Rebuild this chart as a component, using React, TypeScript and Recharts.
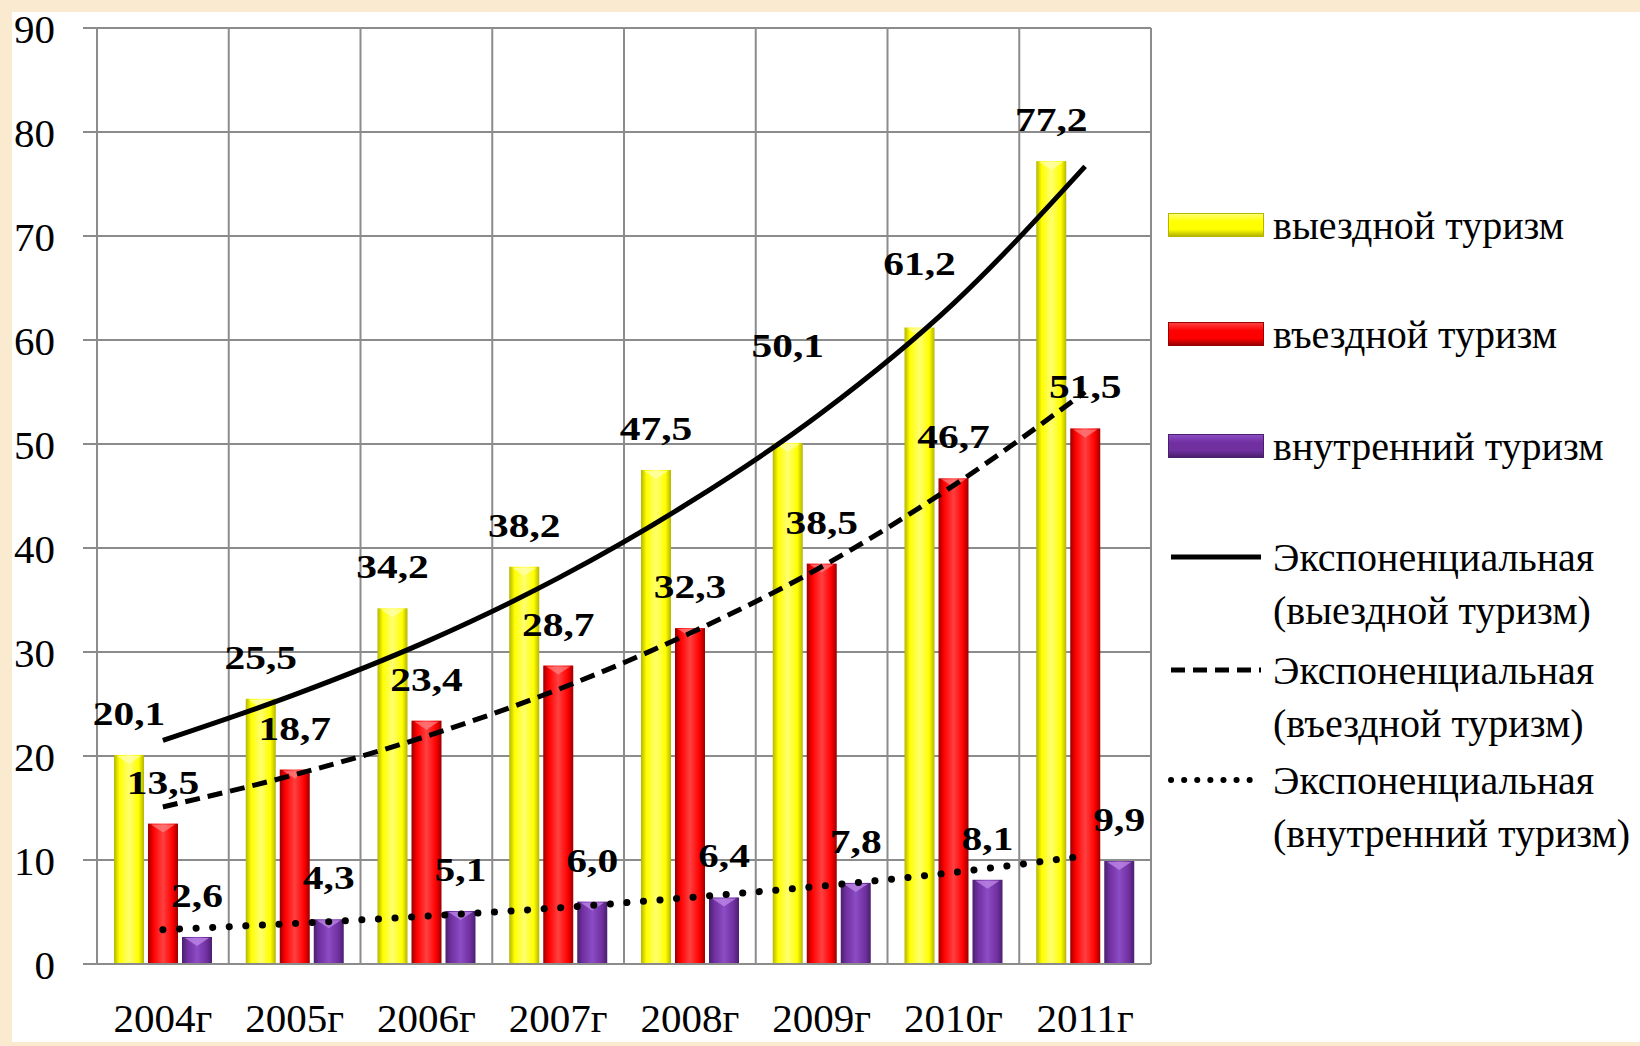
import {
    ComposedChart,
    Bar,
    Line,
    XAxis,
    YAxis,
    CartesianGrid,
    LabelList,
} from 'recharts';

const years = ['2004г', '2005г', '2006г', '2007г', '2008г', '2009г', '2010г', '2011г'];

// млн поездок (values as printed on the bars)
const outbound = [20.1, 25.5, 34.2, 38.2, 47.5, 50.1, 61.2, 77.2];
const inbound = [13.5, 18.7, 23.4, 28.7, 32.3, 38.5, 46.7, 51.5];
const domestic = [2.6, 4.3, 5.1, 6.0, 6.4, 7.8, 8.1, 9.9];

// exponential trend lines at each year
const outboundTrend = [21.5, 25.9, 31.0, 37.1, 44.4, 53.0, 63.5, 76.7];
const inboundTrend = [15.1, 18.2, 21.9, 26.4, 31.8, 38.2, 46.0, 55.0];
const domesticTrend = [3.3, 3.9, 4.6, 5.4, 6.4, 7.5, 8.8, 10.4];

const yTicks = [0, 10, 20, 30, 40, 50, 60, 70, 80, 90];

const seriesNames = ['выездной туризм', 'въездной туризм', 'внутренний туризм'];
const trendNames = [
    ['Экспоненциальная', '(выездной туризм)'],
    ['Экспоненциальная', '(въездной туризм)'],
    ['Экспоненциальная', '(внутренний туризм)'],
];

const data = years.map((year, i) => ({
    year,
    outbound: outbound[i],
    inbound: inbound[i],
    domestic: domestic[i],
    outboundTrend: outboundTrend[i],
    inboundTrend: inboundTrend[i],
    domesticTrend: domesticTrend[i],
}));

const FONT = "'Liberation Serif', 'Times New Roman', serif";
const GRID = '#8c8c8c';

const colors = {
    yellow: { dark: '#b5b500', base: '#ffff00', light: '#ffff70', top: '#ffffb0' },
    red: { dark: '#9a0000', base: '#ff0000', light: '#ff4040', top: '#ff8080' },
    purple: { dark: '#4a1f6e', base: '#7030a0', light: '#8c4cc4', top: '#c08ae8' },
};

const fmt = (v: number) => v.toFixed(1).replace('.', ',');

// bar with a bevelled look like the office 3D bars
const bevelBar = (gid: string, top: string) => (props: any) => {
    const { x, y, width, height } = props;
    if (!height || height <= 0) return <g />;
    const t = Math.min(9, height / 2);
    return (
        <g>
            <rect x={x} y={y} width={width} height={height} fill={`url(#${gid})`} />
            <polygon
                points={`${x + 3},${y + 1} ${x + width - 3},${y + 1} ${x + width / 2},${y + t}`}
                fill={top}
                opacity={0.75}
            />
        </g>
    );
};

// labels sit ~42px above the bar top; a couple were dragged higher in the original
const makeLabel = (lift: Record<number, number>) => (props: any) => {
    const vb = props.viewBox || {};
    const x = Number(props.x ?? vb.x);
    const y = Number(props.y ?? vb.y);
    const w = Number(props.width ?? vb.width);
    const idx = props.index ?? 0;
    const cx = x + w / 2;
    const base = y - 30 - (lift[idx] ?? 0);
    return (
        <text
            transform={`translate(${cx} ${base}) scale(1.22 1)`}
            textAnchor="middle"
            fontFamily={FONT}
            fontWeight="bold"
            fontSize={34}
            fill="#000"
        >
            {fmt(Number(props.value))}
        </text>
    );
};

const Gradient = ({ id, c }: { id: string; c: { dark: string; base: string; light: string } }) => (
    <linearGradient id={id} x1="0" y1="0" x2="1" y2="0">
        <stop offset="0%" stopColor={c.dark} />
        <stop offset="18%" stopColor={c.base} />
        <stop offset="50%" stopColor={c.light} />
        <stop offset="82%" stopColor={c.base} />
        <stop offset="100%" stopColor={c.dark} />
    </linearGradient>
);

const BarSwatch = ({ c, top }: { c: any; top: number }) => (
    <div
        style={{
            position: 'absolute',
            left: 1168,
            top,
            width: 96,
            height: 24,
            background: `linear-gradient(180deg, ${c.light} 0%, ${c.base} 35%, ${c.base} 70%, ${c.dark} 100%)`,
            border: `1px solid ${c.dark}`,
            boxSizing: 'border-box',
        }}
    />
);

const LineSwatch = ({ top, dash, width, cap }: { top: number; dash?: string; width: number; cap?: 'round' | 'butt' }) => (
    <svg style={{ position: 'absolute', left: 1168, top: top - 6 }} width={96} height={12}>
        <line x1={3} y1={6} x2={93} y2={6} stroke="#000" strokeWidth={width} strokeDasharray={dash} strokeLinecap={cap} />
    </svg>
);

const textStyle: React.CSSProperties = {
    position: 'absolute',
    left: 1273,
    fontFamily: FONT,
    fontSize: 40,
    lineHeight: '53px',
    color: '#000',
    whiteSpace: 'nowrap',
};

// legend rows, page coordinates
const LegendBlock = () => {
    const barRows = [
        { c: colors.yellow, y: 225 },
        { c: colors.red, y: 334 },
        { c: colors.purple, y: 446 },
    ];
    const lineRows = [
        { y: 557, dash: undefined, width: 5, cap: 'butt' as const },
        { y: 670, dash: '14 8', width: 5, cap: 'butt' as const },
        { y: 780, dash: '0.1 13', width: 6, cap: 'round' as const },
    ];
    return (
        <>
            {barRows.map((r, i) => (
                <div key={seriesNames[i]}>
                    <BarSwatch c={r.c} top={r.y - 12} />
                    <div style={{ ...textStyle, top: r.y - 26.5 }}>{seriesNames[i]}</div>
                </div>
            ))}
            {lineRows.map((r, i) => (
                <div key={i}>
                    <LineSwatch top={r.y} dash={r.dash} width={r.width} cap={r.cap} />
                    <div style={{ ...textStyle, top: r.y - 26.5 }}>
                        {trendNames[i][0]}
                        <br />
                        {trendNames[i][1]}
                    </div>
                </div>
            ))}
        </>
    );
};

const App = () => {
    return (
        <div style={{ position: 'absolute', left: 0, top: 0, width: 1640, height: 1046, background: '#f9ead0', overflow: 'hidden' }}>
            <div style={{ position: 'absolute', left: 12, top: 12, width: 1628, height: 1030, background: '#fff' }} />
            <div style={{ position: 'absolute', left: 12, top: 0 }}>
                <ComposedChart
                    width={1628}
                    height={1042}
                    data={data}
                    margin={{ top: 28, right: 489, bottom: 0, left: 0 }}
                    barGap={4}
                >
                    <defs>
                        <Gradient id="gYellow" c={colors.yellow} />
                        <Gradient id="gRed" c={colors.red} />
                        <Gradient id="gPurple" c={colors.purple} />
                    </defs>
                    <CartesianGrid
                        stroke={GRID}
                        strokeWidth={2}
                        verticalCoordinatesGenerator={({ offset }: any) =>
                            years.map((_, i) => offset.left + (offset.width * i) / years.length).concat(offset.left + offset.width)
                        }
                    />
                    <XAxis
                        dataKey="year"
                        height={78}
                        axisLine={{ stroke: GRID, strokeWidth: 2 }}
                        tickLine={false}
                        tickSize={0}
                        tickMargin={39}
                        interval={0}
                        tick={{ fontSize: 41, fontFamily: FONT, fill: '#000' }}
                    />
                    <YAxis
                        width={85}
                        domain={[0, 90]}
                        ticks={yTicks}
                        interval={0}
                        axisLine={{ stroke: GRID, strokeWidth: 2 }}
                        tickLine={{ stroke: GRID, strokeWidth: 2 }}
                        tickSize={14}
                        tickMargin={28}
                        tick={{ fontSize: 41, fontFamily: FONT, fill: '#000' }}
                    />
                    <Bar dataKey="outbound" barSize={30} isAnimationActive={false} shape={bevelBar('gYellow', colors.yellow.top)}>
                        <LabelList dataKey="outbound" content={makeLabel({ 5: 56, 6: 23 })} />
                    </Bar>
                    <Bar dataKey="inbound" barSize={30} isAnimationActive={false} shape={bevelBar('gRed', colors.red.top)}>
                        <LabelList dataKey="inbound" content={makeLabel({})} />
                    </Bar>
                    <Bar dataKey="domestic" barSize={30} isAnimationActive={false} shape={bevelBar('gPurple', colors.purple.top)}>
                        <LabelList dataKey="domestic" content={makeLabel({})} />
                    </Bar>
                    <Line
                        type="monotone"
                        dataKey="outboundTrend"
                        stroke="#000"
                        strokeWidth={5}
                        dot={false}
                        activeDot={false}
                        isAnimationActive={false}
                    />
                    <Line
                        type="monotone"
                        dataKey="inboundTrend"
                        stroke="#000"
                        strokeWidth={5}
                        strokeDasharray="15 8"
                        dot={false}
                        activeDot={false}
                        isAnimationActive={false}
                    />
                    <Line
                        type="monotone"
                        dataKey="domesticTrend"
                        stroke="#000"
                        strokeWidth={7}
                        strokeDasharray="0.1 16.5"
                        strokeLinecap="round"
                        dot={false}
                        activeDot={false}
                        isAnimationActive={false}
                    />
                </ComposedChart>
            </div>
            <LegendBlock />
        </div>
    );
};

export default App;
